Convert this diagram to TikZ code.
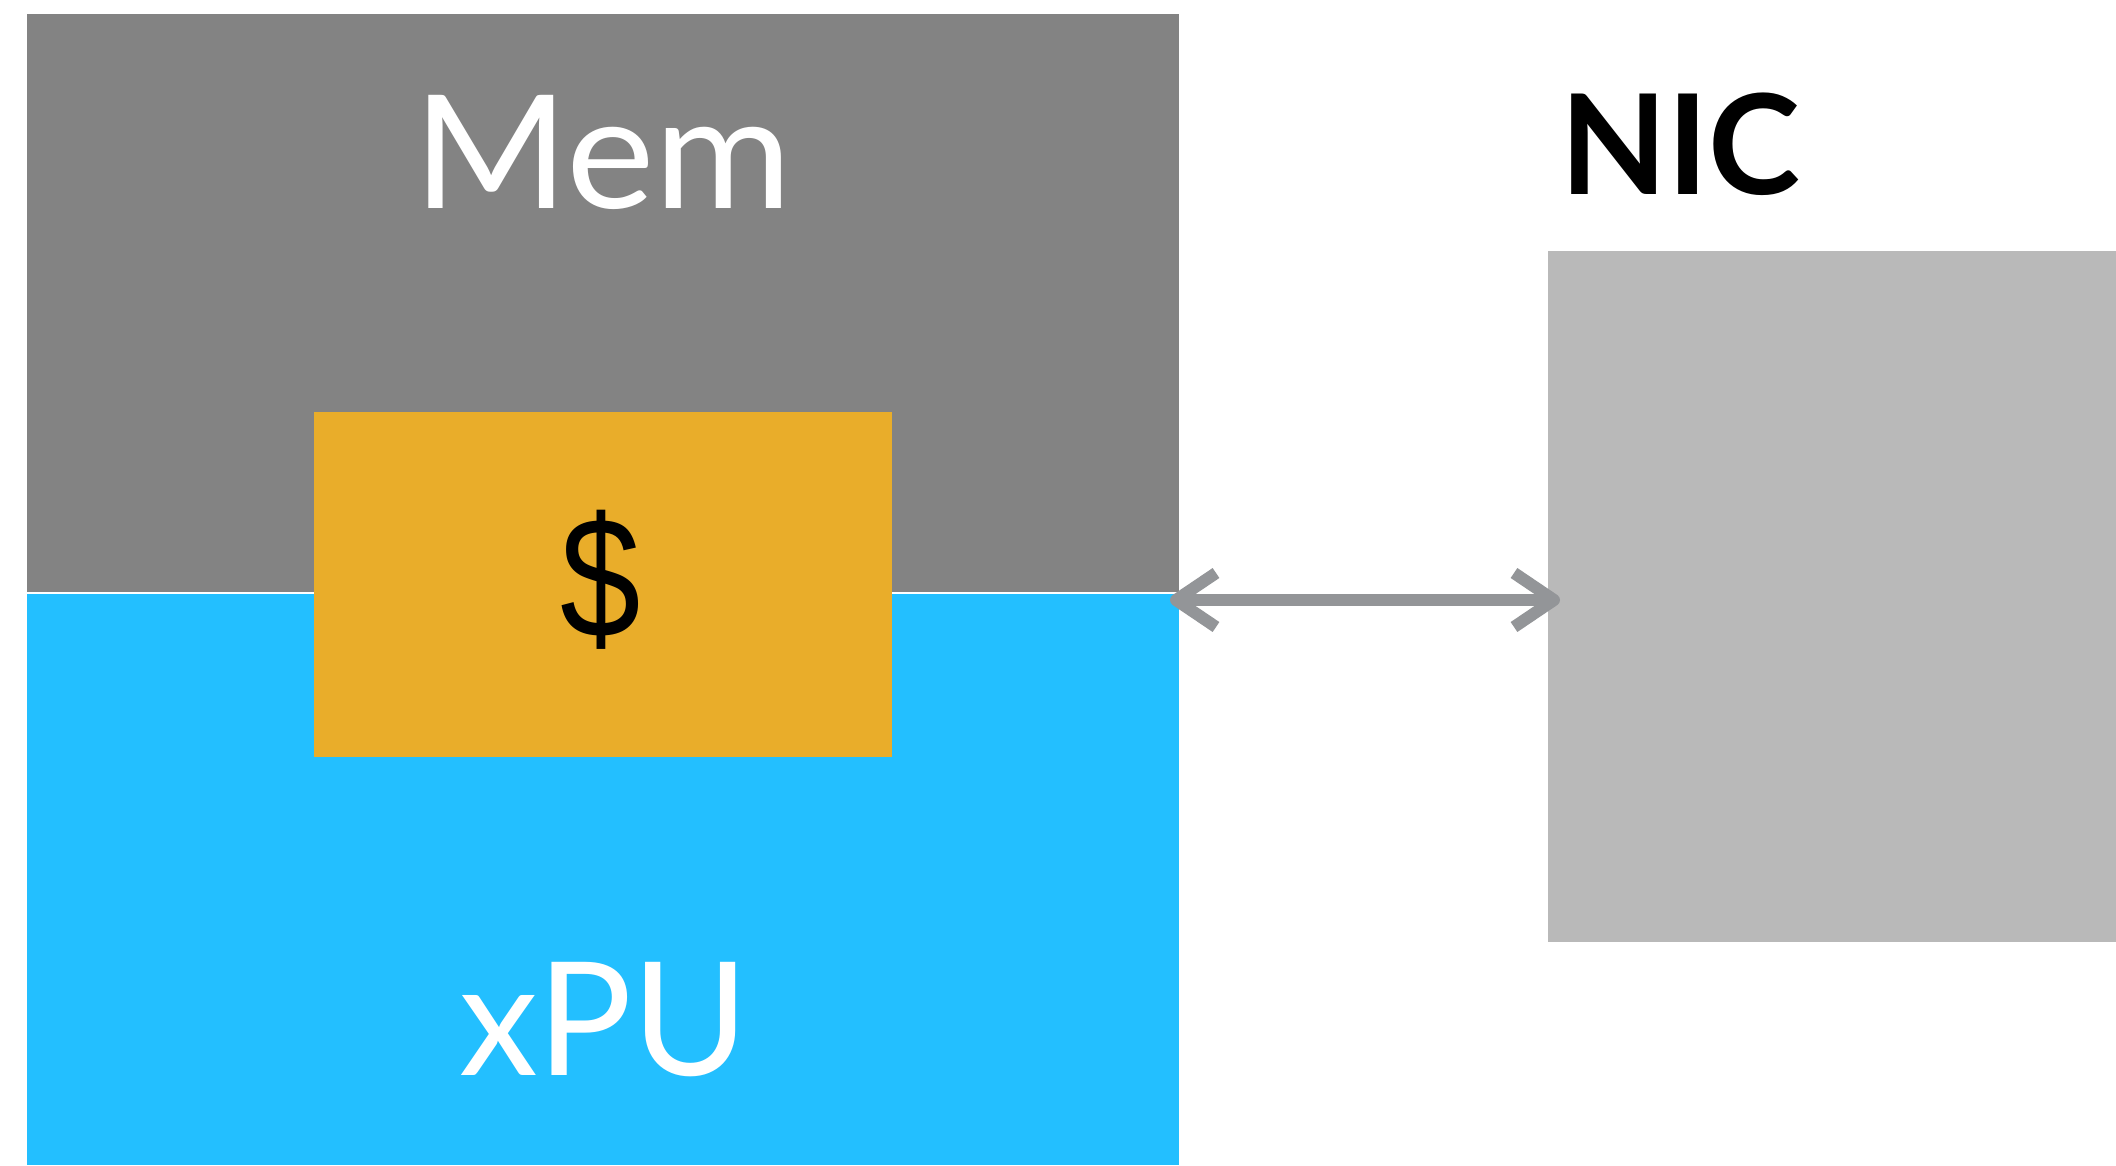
\documentclass[tikz,border=0pt]{standalone}
\usepackage{fontspec}
\setmainfont{Lato}
\newfontfamily\signfont{Liberation Sans}
\usetikzlibrary{arrows.meta}
\definecolor{memgray}{HTML}{838383}
\definecolor{nicgray}{HTML}{B9B9B9}
\definecolor{cacheorange}{HTML}{E9AD2A}
\definecolor{xpublue}{HTML}{23BFFF}
\definecolor{linkgray}{HTML}{939598}
\tikzset{
  block/.style={rectangle, inner sep=0pt, outer sep=0pt, draw=none, anchor=north west},
  biglabel/.style={inner sep=0pt, outer sep=0pt, anchor=base, font=\fontsize{158}{160}\selectfont},
  barb/.tip={Straight Barb[length=40pt, width=54pt, line width=12pt, line join=round, line cap=butt]},
  link/.style={draw=linkgray, line width=12pt, barb-barb}
}
\begin{document}
\begin{tikzpicture}[x=1pt, y=-1pt]
  \useasboundingbox[fill=white] (0,0) rectangle (2116,1165);
  % memory and processor blocks
  \node[block, fill=memgray, minimum width=1152pt, minimum height=578pt] (mem) at (27,13.5) {};
  \node[block, fill=xpublue, minimum width=1152pt, minimum height=571pt] (xpu) at (27,594) {};
  \node[block, fill=cacheorange, minimum width=578pt, minimum height=345pt] (cache) at (314,412) {};
  % network interface
  \node[block, fill=nicgray, minimum width=570pt, minimum height=691pt] (nic) at (1548,251) {};
  % labels
  \node[biglabel, text=white] (memlabel) at (603,208) {\scalebox{1.06}[1]{Mem}};
  \node[biglabel, text=white] (xpulabel) at (604,1075) {xPU};
  \node[inner sep=0pt, outer sep=0pt, anchor=base, text=black, font=\signfont\fontsize{172}{175}\selectfont] (cachelabel) at (601,637) {\scalebox{0.84}[1]{\$}};
  \node[inner sep=0pt, outer sep=0pt, anchor=base west, font=\bfseries\fontsize{139}{140}\selectfont] (niclabel) at (1560,194) {NIC};
  % link between processor and NIC
  \coordinate (linkL) at (1170,600);
  \coordinate (linkR) at (1560,600);
  \draw[link] (linkL) -- (linkR);
\end{tikzpicture}
\end{document}
